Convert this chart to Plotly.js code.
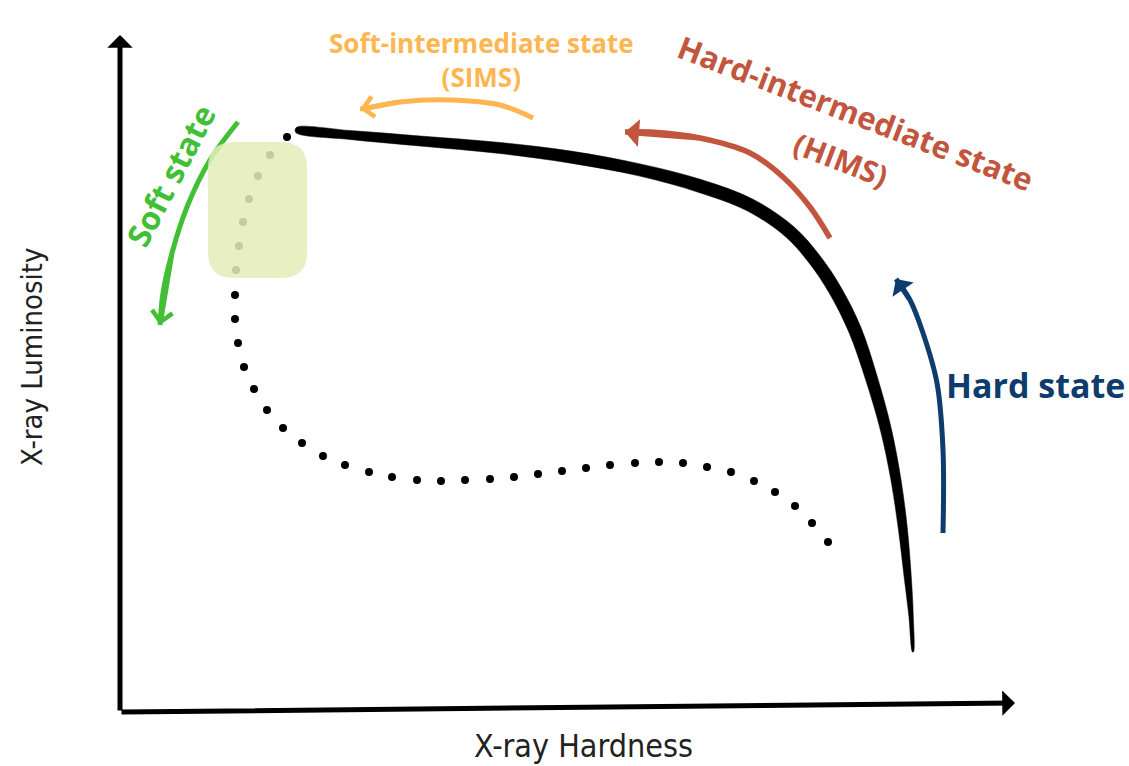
<!DOCTYPE html>
<html>
<head>
<meta charset="utf-8">
<script src="https://cdn.plot.ly/plotly-3.0.1.min.js"></script>
<style>html,body{margin:0;padding:0;background:#fff;}#chart{width:1129px;height:766px;}</style>
</head>
<body>
<div id="chart"></div>
<script>
// Main outburst track (X-ray hardness vs luminosity, arbitrary units)
const trackHardness   = [176, 230, 300, 380, 450, 520, 580, 630, 670, 695, 715, 735, 752, 766, 776, 783, 788, 791, 793];
const trackLuminosity = [582, 577, 571, 564, 555, 542, 526, 507, 480, 452, 422, 382, 332, 282, 232, 182, 132, 97, 60];
const trackThickness  = [5, 9, 10, 11, 12, 12, 13, 13, 13, 13, 13, 13, 12, 11, 10, 9, 7, 4.5, 1];

// Dotted decay path (soft state -> back to hard)
const decayHardness   = [167, 150, 138, 129, 123, 119, 116, 115, 115, 118, 124, 134, 147, 163, 182, 203, 225, 249, 272, 297, 321, 345, 370, 394, 418, 442, 466, 490, 515, 539, 563, 587, 611, 634, 655, 675, 692, 708];
const decayLuminosity = [575, 557, 536, 513, 490, 466, 442, 417, 393, 369, 345, 323, 302, 284, 269, 256, 247, 240, 235, 232, 231, 232, 233, 235, 238, 241, 244, 247, 249, 250, 249, 245, 240, 231, 220, 206, 189, 170];

// Soft-state region (highlight box)
const softBoxHardness   = [88, 187];
const softBoxLuminosity = [434, 570];

// State transition arrows
const softArrowX = [118, 90, 67, 52, 43, 40];
const softArrowY = [590, 552, 505, 459, 419, 387];
const simsArrowX = [413, 380, 330, 280, 247, 240];
const simsArrowY = [594, 607, 612, 610, 604, 603];
const himsArrowX = [710, 690, 663, 630, 580, 530, 505];
const himsArrowY = [474, 505, 535, 559, 574, 580, 580];
const hardArrowX = [823, 823, 817, 803, 790, 776];
const hardArrowY = [179, 262, 329, 379, 412, 433];

// Axes arrows
const axisOrigin = [0, 0];
const xAxisEnd = [895, 9];
const yAxisEnd = [0, 677];

const GREEN = '#42BF35', ORANGE = '#FFB650', RUST = '#C2553D', NAVY = '#0E3C6C';

// Build tapered track outline
function taperedOutline(xs, ys, ws) {
  const L = [], R = [];
  for (let i = 0; i < xs.length; i++) {
    const a = Math.max(0, i - 1), b = Math.min(xs.length - 1, i + 1);
    let tx = xs[b] - xs[a], ty = ys[b] - ys[a];
    const n = Math.hypot(tx, ty) || 1; tx /= n; ty /= n;
    const nx = -ty, ny = tx, h = ws[i] / 2;
    L.push([xs[i] + nx * h, ys[i] + ny * h]);
    R.push([xs[i] - nx * h, ys[i] - ny * h]);
  }
  const pts = L.concat(R.reverse());
  pts.push(pts[0]);
  return {x: pts.map(p => p[0]), y: pts.map(p => p[1])};
}
const outline = taperedOutline(trackHardness, trackLuminosity, trackThickness);

const traces = [
  {x: decayHardness, y: decayLuminosity, mode: 'markers', type: 'scatter',
   marker: {color: '#000', size: 8}, hoverinfo: 'skip'},
  {x: outline.x, y: outline.y, mode: 'lines', type: 'scatter', fill: 'toself',
   fillcolor: '#000', line: {color: '#000', width: 0.5, shape: 'spline', smoothing: 1}, hoverinfo: 'skip'},
  {x: softArrowX, y: softArrowY, mode: 'lines', line: {color: GREEN, width: 5, shape: 'spline'}, hoverinfo: 'skip'},
  {x: simsArrowX, y: simsArrowY, mode: 'lines', line: {color: ORANGE, width: 5, shape: 'spline'}, hoverinfo: 'skip'},
  {x: himsArrowX, y: himsArrowY, mode: 'lines', line: {color: RUST, width: 5.5, shape: 'spline'}, hoverinfo: 'skip'},
  {x: hardArrowX, y: hardArrowY, mode: 'lines', line: {color: NAVY, width: 5, shape: 'spline'}, hoverinfo: 'skip'}
];

function head(xs, ys, back, color, style, width, size) {
  const n = xs.length;
  return {x: xs[n-1], y: ys[n-1], ax: xs[n-1-back], ay: ys[n-1-back], xref: 'x', yref: 'y', axref: 'x', ayref: 'y',
    text: '', showarrow: true, arrowhead: style, arrowcolor: color, arrowwidth: width, arrowsize: size, standoff: 0, startstandoff: 0};
}

const [bx0, bx1] = softBoxHardness, [by0, by1] = softBoxLuminosity, r = 26;
const boxPath = `M ${bx0+r},${by0} L ${bx1-r},${by0} Q ${bx1},${by0} ${bx1},${by0+r} L ${bx1},${by1-r} Q ${bx1},${by1} ${bx1-r},${by1} L ${bx0+r},${by1} Q ${bx0},${by1} ${bx0},${by1-r} L ${bx0},${by0+r} Q ${bx0},${by0} ${bx0+r},${by0} Z`;

const bold = 'Open Sans, Noto Sans, sans-serif';
const narrow = 'Liberation Sans Narrow, DejaVu Sans Condensed, sans-serif';

const annotations = [
  {x: xAxisEnd[0], y: xAxisEnd[1], ax: axisOrigin[0], ay: axisOrigin[1], xref: 'x', yref: 'y', axref: 'x', ayref: 'y',
   text: '', showarrow: true, arrowhead: 1, arrowcolor: '#000', arrowwidth: 5, arrowsize: 0.85, standoff: 0},
  {x: yAxisEnd[0], y: yAxisEnd[1], ax: axisOrigin[0], ay: axisOrigin[1], xref: 'x', yref: 'y', axref: 'x', ayref: 'y',
   text: '', showarrow: true, arrowhead: 1, arrowcolor: '#000', arrowwidth: 5, arrowsize: 0.85, standoff: 0},
  head(softArrowX, softArrowY, 2, GREEN, 4, 5, 0.8),
  head(simsArrowX, simsArrowY, 2, ORANGE, 4, 5, 0.8),
  head(himsArrowX, himsArrowY, 2, RUST, 1, 5.5, 0.85),
  head(hardArrowX, hardArrowY, 1, NAVY, 1, 5, 0.85),
  {x: 463, y: -34, xref: 'x', yref: 'y', text: 'X-ray Hardness', showarrow: false,
   font: {family: narrow, size: 32, color: '#222'}},
  {x: -88, y: 355, xref: 'x', yref: 'y', text: 'X-ray Luminosity', showarrow: false, textangle: -90,
   font: {family: narrow, size: 29, color: '#222'}},
  {x: 361, y: 652, xref: 'x', yref: 'y', text: '<b>Soft-intermediate state<br>(SIMS)</b>', showarrow: false,
   font: {family: bold, size: 26, color: ORANGE}},
  {x: 736, y: 599, xref: 'x', yref: 'y', text: '<b>Hard-intermediate state</b>', showarrow: false, textangle: 21,
   font: {family: bold, size: 31, color: RUST}},
  {x: 721, y: 553, xref: 'x', yref: 'y', text: '<b>(HIMS)</b>', showarrow: false, textangle: 21,
   font: {family: bold, size: 30, color: RUST}},
  {x: 915, y: 327, xref: 'x', yref: 'y', text: '<b>Hard state</b>', showarrow: false,
   font: {family: bold, size: 34, color: NAVY}},
  {x: 50, y: 537, xref: 'x', yref: 'y', text: '<b>Soft state</b>', showarrow: false, textangle: -62.6,
   font: {family: bold, size: 32, color: GREEN}}
];

const layout = {
  width: 1129, height: 766,
  margin: {l: 0, r: 0, t: 0, b: 0, pad: 0},
  paper_bgcolor: '#fff', plot_bgcolor: '#fff',
  showlegend: false,
  xaxis: {range: [-120, 1009], visible: false, fixedrange: true},
  yaxis: {range: [-54, 712], visible: false, fixedrange: true},
  shapes: [{type: 'path', path: boxPath, xref: 'x', yref: 'y', fillcolor: 'rgba(228,236,185,0.86)',
            line: {width: 0}, layer: 'above'}],
  annotations: annotations
};

Plotly.newPlot('chart', traces, layout, {displayModeBar: false, staticPlot: true});
</script>
</body>
</html>
